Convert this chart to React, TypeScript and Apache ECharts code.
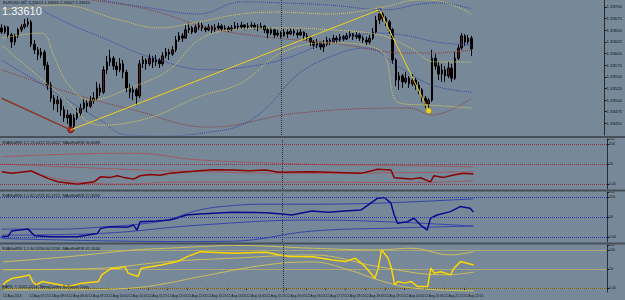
import { useEffect, useRef } from 'react';
import * as echarts from 'echarts';

const FONT = 'Liberation Sans, Arial, sans-serif';
const BG = '#778899';
const N_SLOTS = 184;

const timeLabels = ['12 Aug 2014', '12 Aug 07:25', '12 Aug 08:05', '12 Aug 08:45', '12 Aug 09:25', '12 Aug 10:05', '12 Aug 10:45', '12 Aug 11:25', '12 Aug 12:05', '12 Aug 12:45', '12 Aug 13:25', '12 Aug 14:05', '12 Aug 14:45', '12 Aug 15:25', '12 Aug 16:05', '12 Aug 16:45', '12 Aug 17:25', '12 Aug 18:05', '12 Aug 18:45', '12 Aug 19:25', '12 Aug 20:05', '12 Aug 20:45', '12 Aug 21:25', '12 Aug 22:05'];
const tickBars = [0, 8, 14, 20, 26, 32, 38, 44, 50, 56, 62, 68, 74, 80, 86, 92, 98, 104, 110, 116, 122, 128, 134, 140];

const opens = [1.33655,1.33646,1.33657,1.33640,1.33625,1.33638,1.33651,1.33657,1.33663,1.33668,
1.33620,1.33608,1.33597,1.33603,1.33575,1.33532,1.33504,1.33492,1.33500,1.33479,
1.33462,1.33468,1.33444,1.33462,1.33472,1.33483,1.33494,1.33487,1.33500,1.33504,
1.33526,1.33517,1.33565,1.33582,1.33590,1.33573,1.33565,1.33578,1.33560,1.33526,
1.33517,1.33522,1.33509,1.33578,1.33586,1.33578,1.33590,1.33582,1.33586,1.33578,
1.33595,1.33603,1.33599,1.33608,1.33629,1.33638,1.33633,1.33651,1.33655,1.33646,
1.33657,1.33661,1.33655,1.33651,1.33657,1.33651,1.33655,1.33659,1.33653,1.33655,
1.33651,1.33655,1.33659,1.33657,1.33661,1.33657,1.33659,1.33661,1.33657,1.33655,
1.33659,1.33651,1.33644,1.33651,1.33640,1.33644,1.33638,1.33646,1.33642,1.33648,
1.33644,1.33640,1.33646,1.33638,1.33633,1.33625,1.33618,1.33623,1.33614,1.33620,
1.33629,1.33625,1.33633,1.33629,1.33636,1.33631,1.33638,1.33642,1.33636,1.33640,
1.33633,1.33629,1.33625,1.33633,1.33646,1.33672,1.33685,1.33676,1.33668,1.33651,
1.33586,1.33543,1.33552,1.33539,1.33547,1.33535,1.33543,1.33532,1.33522,1.33504,
1.33492,1.33500,1.33590,1.33573,1.33556,1.33565,1.33552,1.33569,1.33547,1.33590,
1.33612,1.33638,1.33625,1.33633];
const closes = [1.33646,1.33657,1.33640,1.33625,1.33638,1.33651,1.33657,1.33663,1.33668,1.33620,
1.33608,1.33597,1.33603,1.33575,1.33532,1.33504,1.33492,1.33500,1.33479,1.33462,
1.33468,1.33444,1.33462,1.33472,1.33483,1.33494,1.33487,1.33500,1.33504,1.33526,
1.33517,1.33565,1.33582,1.33590,1.33573,1.33565,1.33578,1.33560,1.33526,1.33517,
1.33522,1.33509,1.33578,1.33586,1.33578,1.33590,1.33582,1.33586,1.33578,1.33595,
1.33603,1.33599,1.33608,1.33629,1.33638,1.33633,1.33651,1.33655,1.33646,1.33657,
1.33661,1.33655,1.33651,1.33657,1.33651,1.33655,1.33659,1.33653,1.33655,1.33651,
1.33655,1.33659,1.33657,1.33661,1.33657,1.33659,1.33661,1.33657,1.33655,1.33659,
1.33651,1.33644,1.33651,1.33640,1.33644,1.33638,1.33646,1.33642,1.33648,1.33644,
1.33640,1.33646,1.33638,1.33633,1.33625,1.33618,1.33623,1.33614,1.33620,1.33629,
1.33625,1.33633,1.33629,1.33636,1.33631,1.33638,1.33642,1.33636,1.33640,1.33633,
1.33629,1.33625,1.33633,1.33646,1.33672,1.33685,1.33676,1.33668,1.33651,1.33586,
1.33543,1.33552,1.33539,1.33547,1.33535,1.33543,1.33532,1.33522,1.33504,1.33492,
1.33500,1.33590,1.33573,1.33556,1.33565,1.33552,1.33569,1.33547,1.33590,1.33612,
1.33638,1.33625,1.33633,1.33610];
const lows = [1.33642,1.33642,1.33633,1.33612,1.33618,1.33633,1.33646,1.33653,1.33657,1.33614,
1.33599,1.33586,1.33590,1.33565,1.33522,1.33496,1.33479,1.33474,1.33466,1.33453,
1.33449,1.33436,1.33440,1.33457,1.33466,1.33479,1.33474,1.33483,1.33492,1.33500,
1.33509,1.33513,1.33556,1.33573,1.33565,1.33552,1.33560,1.33547,1.33517,1.33504,
1.33500,1.33489,1.33504,1.33569,1.33565,1.33573,1.33569,1.33573,1.33569,1.33573,
1.33590,1.33586,1.33595,1.33603,1.33625,1.33625,1.33633,1.33644,1.33642,1.33644,
1.33651,1.33648,1.33646,1.33648,1.33644,1.33646,1.33651,1.33648,1.33648,1.33646,
1.33648,1.33651,1.33651,1.33653,1.33651,1.33653,1.33655,1.33651,1.33648,1.33653,
1.33644,1.33633,1.33640,1.33633,1.33636,1.33631,1.33636,1.33633,1.33640,1.33638,
1.33633,1.33638,1.33629,1.33627,1.33616,1.33610,1.33612,1.33608,1.33603,1.33616,
1.33618,1.33623,1.33623,1.33625,1.33627,1.33629,1.33633,1.33629,1.33631,1.33627,
1.33623,1.33618,1.33620,1.33629,1.33642,1.33663,1.33668,1.33659,1.33642,1.33578,
1.33530,1.33522,1.33526,1.33535,1.33526,1.33530,1.33522,1.33513,1.33496,1.33483,
1.33477,1.33496,1.33565,1.33543,1.33539,1.33539,1.33547,1.33539,1.33543,1.33586,
1.33608,1.33616,1.33620,1.33595];
const highs = [1.33663,1.33661,1.33659,1.33644,1.33642,1.33655,1.33663,1.33674,1.33676,1.33672,
1.33629,1.33614,1.33612,1.33608,1.33582,1.33539,1.33511,1.33509,1.33504,1.33487,
1.33479,1.33472,1.33470,1.33483,1.33492,1.33504,1.33500,1.33509,1.33517,1.33539,
1.33535,1.33573,1.33595,1.33608,1.33595,1.33582,1.33590,1.33586,1.33565,1.33535,
1.33530,1.33526,1.33586,1.33595,1.33590,1.33599,1.33595,1.33597,1.33590,1.33603,
1.33612,1.33610,1.33616,1.33638,1.33646,1.33644,1.33661,1.33666,1.33659,1.33663,
1.33668,1.33666,1.33659,1.33663,1.33661,1.33663,1.33666,1.33663,1.33661,1.33659,
1.33661,1.33668,1.33666,1.33668,1.33663,1.33666,1.33668,1.33666,1.33663,1.33666,
1.33661,1.33655,1.33657,1.33653,1.33651,1.33648,1.33653,1.33651,1.33655,1.33653,
1.33651,1.33653,1.33648,1.33644,1.33638,1.33629,1.33631,1.33625,1.33629,1.33636,
1.33633,1.33640,1.33638,1.33642,1.33640,1.33644,1.33648,1.33644,1.33646,1.33644,
1.33638,1.33636,1.33640,1.33655,1.33681,1.33694,1.33689,1.33681,1.33672,1.33655,
1.33590,1.33560,1.33556,1.33560,1.33552,1.33556,1.33547,1.33539,1.33526,1.33509,
1.33504,1.33608,1.33599,1.33582,1.33578,1.33573,1.33582,1.33578,1.33603,1.33620,
1.33644,1.33642,1.33640,1.33638];

// main-window indicator curves: [bar index, price]
const yellowUpper = [[0,1.33694],[18,1.33704],[36,1.33672],[48,1.33655],[60,1.33668],[73,1.33685],[85,1.33689],[100,1.33685],[115,1.33698],[127,1.33715],[133,1.33713],[143,1.33685]];
const yellowMid = [[0,1.33633],[12,1.33644],[16,1.33593],[20,1.33537],[27,1.33500],[39,1.33526],[51,1.33565],[60,1.33629],[70,1.33651],[85,1.33655],[100,1.33651],[115,1.33640],[124,1.33614],[132,1.33582],[143,1.33582]];
const yellowLower = [[0,1.33618],[18,1.33511],[30,1.33446],[45,1.33462],[60,1.33507],[73,1.33537],[85,1.33601],[99,1.33623],[115,1.33608],[121,1.33494],[131,1.33489],[143,1.33483]];
const blueUpper = [[30,1.33715],[45,1.33698],[60,1.33685],[73,1.33711],[85,1.33709],[100,1.33704],[117,1.33694],[127,1.33706],[133,1.33709],[143,1.33696]];
const blueMid = [[7,1.33715],[18,1.33672],[30,1.33636],[45,1.33593],[63,1.33565],[72,1.33569],[85,1.33586],[100,1.33625],[115,1.33644],[124,1.33638],[132,1.33625],[143,1.33618]];
const blueLower = [[0,1.33586],[15,1.33522],[30,1.33457],[38,1.33425],[51,1.33423],[63,1.33431],[72,1.33444],[80,1.33479],[90,1.33554],[100,1.33593],[111,1.33612],[121,1.33571],[131,1.33532],[143,1.33517]];
const redUpper = [[27,1.33715],[45,1.33694],[63,1.33655],[80,1.33636],[100,1.33623],[124,1.33601],[131,1.33601],[143,1.33608]];
const redLower = [[0,1.33565],[23,1.33511],[40,1.33479],[63,1.33442],[90,1.33472],[124,1.33483],[131,1.33468],[143,1.33504]];
const zigzag = [[21,1.33436],[115,1.33694],[130,1.33477]];
const trendLine = [[0,1.33504],[21,1.33436]];
const bidPrice = 1.33610;
const separatorBar = 85;

// sub windows: [bar index, value]
const sub1Main = [[0,30.8],[3,26.8],[9,32.5],[14,14.3],[17,5.8],[23,0],[28,5.8],[30,18.3],[33,16.8],[35,20.8],[37,16.8],[40,12.5],[42,20.8],[45,24],[48,22],[51,26.8],[60,33.3],[64,36],[70,35],[75,33],[80,35],[84,29.3],[94,30.8],[109,26.8],[114,36.8],[118,35],[119,15.8],[124,12.5],[127,15.8],[130,5.8],[131,20.8],[134,16.8],[137,22.5],[140,26.8],[143,25]];
const sub1Upper = [[0,68.3],[20,74.3],[40,76.8],[60,60],[94,49.3],[110,47.5],[143,43.3]];
const sub1Mid = [[0,50],[30,39.3],[50,33.3],[94,26.8],[143,30.8]];
const sub1Low = [[12,22.5],[23,5],[38,0],[52,5],[94,5],[124,4],[143,8]];

const sub2Main = [[0,0.8],[2,2.5],[3,15],[8,20],[9,11.8],[10,3.3],[15,0.8],[23,0.8],[29,9.3],[30,21.8],[33,25.8],[38,24.3],[40,30],[41,17.5],[42,38.3],[47,40],[51,42.5],[53,46.8],[56,55],[60,57.5],[70,61.8],[80,60.8],[85,57.5],[88,55],[94,65],[99,61.8],[104,65],[109,67.5],[114,96.8],[116,98.3],[118,84.3],[119,55],[120,34.3],[123,38.3],[125,46.8],[127,30],[129,17.5],[130,46.8],[132,55],[136,63.3],[139,75.8],[142,71.8],[143,62.5]];
const sub2Upper = [[0,20],[18,20],[30,25],[42,32.5],[50,42.5],[60,67.5],[70,78.3],[80,81.8],[94,81.8],[114,84.3],[143,95]];
const sub2Mid = [[0,5],[30,9.3],[60,30],[94,42.5],[119,37.5],[143,27.5]];
const sub2Low = [[0,-3.3],[54,-11],[70,-10],[94,15],[119,22.5],[143,27.5]];

const sub3Main = [[0,7.9],[1,16.6],[3,25.5],[6,29.7],[8,34.2],[9,16.6],[10,7.9],[12,16.6],[20,3.4],[24,12.4],[29,16.6],[30,34.2],[33,51.8],[35,51.8],[37,56],[38,38.7],[41,29.7],[42,51.8],[48,60.5],[53,69.2],[56,82.4],[60,95.5],[70,91.3],[80,93.9],[84,86.8],[87,82.4],[94,82],[100,73.7],[104,69.2],[107,78.2],[110,56],[113,25.5],[114,51.8],[115,100],[117,78.2],[118,51.8],[119,7.9],[120,16.6],[122,12.4],[124,16.6],[126,3.4],[129,3.4],[130,51.8],[131,38.7],[133,42.5],[136,34.2],[137,51.8],[139,69.2],[141,65],[143,60.5]];
const sub3Upper = [[0,68.4],[20,82.4],[40,100],[50,104.5],[60,108.7],[70,112],[94,104.5],[114,100],[124,104.5],[136,86.8],[143,95.5]];
const sub3Mid = [[0,47.4],[30,51.8],[50,69.2],[70,78.2],[94,86.8],[114,56],[134,34.2],[143,41.3]];
const sub3Low = [[0,-5.3],[20,-5.3],[40,0],[50,12.4],[60,29.7],[80,60.5],[94,68.4],[105,47.4],[114,21],[124,0],[143,-7.9]];

const levels = [100, 50, 0];
const subAxisLabels = [0, 50, 100, 112];

function buildOption() {
  const cats = Array.from({ length: N_SLOTS }, (_, i) => String(i));
  const tickMap = new Map<number, string>();
  tickBars.forEach((b, k) => tickMap.set(b, timeLabels[k]));
  const grids = [
    { left: 0, right: 18, top: 0, height: 135 },
    { left: 0, right: 18, top: 139, height: 50 },
    { left: 0, right: 18, top: 192, height: 50 },
    { left: 0, right: 18, top: 245, height: 47 },
  ];
  const xAxis = grids.map((_, gi) => ({
    type: 'category', gridIndex: gi, data: cats, boundaryGap: true, show: gi === 3,
    axisLine: { show: true, lineStyle: { color: '#262d36' } },
    axisTick: { show: true, alignWithLabel: true, interval: (idx: number) => tickMap.has(idx), length: 2, lineStyle: { color: '#111' } },
    axisLabel: {
      interval: (idx: number) => tickMap.has(idx),
      formatter: (_v: string, idx: number) => tickMap.get(idx) ?? '',
      fontSize: 3.3, color: '#111', align: 'left', margin: 2, fontFamily: FONT,
    },
    splitLine: { show: false },
  }));
  const subY = (gi: number, min: number, max: number) => ({
    type: 'value', gridIndex: gi, position: 'right', min, max,
    axisLine: { show: true, lineStyle: { color: '#262d36' } },
    axisTick: { show: true, length: 2, customValues: subAxisLabels, lineStyle: { color: '#111' } },
    axisLabel: { customValues: subAxisLabels, fontSize: 3.6, color: '#111', margin: 2, fontFamily: FONT, formatter: (v: number) => (v === 0 ? '0.00' : String(v)) },
    splitLine: { show: false },
  });
  const yAxis = [
    {
      type: 'value', gridIndex: 0, position: 'right', min: 1.33425, max: 1.33715, interval: 0.00025,
      axisLine: { show: true, lineStyle: { color: '#262d36' } },
      axisTick: { show: true, length: 2, lineStyle: { color: '#111' } },
      axisLabel: { fontSize: 4.3, color: '#111', margin: 2, fontFamily: FONT, showMaxLabel: false, showMinLabel: false, formatter: (v: number) => v.toFixed(5) },
      splitLine: { show: false },
    },
    subY(1, -12, 112), subY(2, -12, 112), subY(3, -11, 113),
  ];

  const dotted = (data: number[][], color: string) => ({
    type: 'line', xAxisIndex: 0, yAxisIndex: 0, data, smooth: 0.4, symbol: 'none', silent: true,
    lineStyle: { color, width: 1, type: 'dotted' },
  });
  const subLine = (gi: number, data: number[][], color: string, width: number, smooth: number | boolean) => ({
    type: 'line', xAxisIndex: gi, yAxisIndex: gi, data, smooth, symbol: 'none', silent: true,
    lineStyle: { color, width },
  });
  const levelMarks = (color: string) => ({
    silent: true, symbol: ['none', 'none'], label: { show: false },
    data: [
      ...levels.map((l) => ({ yAxis: l, lineStyle: { color, type: 'dotted', width: 1 } })),
      { xAxis: separatorBar, lineStyle: { color: '#2a313a', type: 'dotted', width: 1 } },
    ],
  });

  const candleData = opens.map((o, i) => [o, closes[i], lows[i], highs[i]]);

  const series: any[] = [
    dotted(redUpper, '#8e3b3b'),
    dotted(redLower, '#8e3b3b'),
    dotted(blueUpper, '#3646a0'),
    dotted(blueMid, '#3646a0'),
    dotted(blueLower, '#3646a0'),
    dotted(yellowUpper, '#d9c955'),
    dotted(yellowMid, '#d9c955'),
    dotted(yellowLower, '#d9c955'),
    {
      type: 'candlestick', xAxisIndex: 0, yAxisIndex: 0, data: candleData, barWidth: 2,
      itemStyle: { color: '#5b1a22', color0: '#000000', borderColor: '#000000', borderColor0: '#000000', borderWidth: 1 },
      markLine: {
        silent: true, symbol: ['none', 'none'],
        data: [
          {
            yAxis: bidPrice, lineStyle: { color: '#2a313a', type: 'solid', width: 1 },
            label: { show: true, position: 'end', distance: 1, formatter: bidPrice.toFixed(5), color: '#ffffff', backgroundColor: '#000000', fontSize: 4.3, padding: [0.5, 1], fontFamily: FONT },
          },
          { xAxis: separatorBar, lineStyle: { color: '#2a313a', type: 'dotted', width: 1 }, label: { show: false } },
        ],
      },
    },
    { type: 'line', xAxisIndex: 0, yAxisIndex: 0, data: trendLine, symbol: 'none', silent: true, lineStyle: { color: '#8b3a2a', width: 1.5 } },
    { type: 'line', xAxisIndex: 0, yAxisIndex: 0, data: zigzag, symbol: 'none', silent: true, lineStyle: { color: '#f2d21a', width: 1 } },
    { type: 'scatter', xAxisIndex: 0, yAxisIndex: 0, data: [zigzag[0]], symbolSize: 6, itemStyle: { color: '#c01010', borderColor: '#3a0a0a', borderWidth: 0.8 } },
    { type: 'scatter', xAxisIndex: 0, yAxisIndex: 0, data: [zigzag[1]], symbolSize: 6, itemStyle: { color: '#2234c8', borderColor: '#f2d21a', borderWidth: 0.8 } },
    { type: 'scatter', xAxisIndex: 0, yAxisIndex: 0, data: [zigzag[2]], symbolSize: 6, itemStyle: { color: '#ffe21a', borderColor: '#8a7a10', borderWidth: 0.8 } },

    subLine(1, sub1Upper, '#a05a62', 1, 0.4),
    subLine(1, sub1Mid, '#a05a62', 1, 0.4),
    subLine(1, sub1Low, '#a05a62', 1, 0.4),
    { ...subLine(1, sub1Main, '#8b0000', 1.5, false), markLine: levelMarks('#8e3040') },

    subLine(2, sub2Upper, '#3444a8', 1, 0.4),
    subLine(2, sub2Mid, '#3444a8', 1, 0.4),
    subLine(2, sub2Low, '#3444a8', 1, 0.4),
    { ...subLine(2, sub2Main, '#0a0a8e', 1.5, false), markLine: levelMarks('#2a3ab4') },

    subLine(3, sub3Upper, '#cdbf5c', 1, 0.4),
    subLine(3, sub3Mid, '#cdbf5c', 1, 0.4),
    subLine(3, sub3Low, '#cdbf5c', 1, 0.4),
    { ...subLine(3, sub3Main, '#ffd700', 1.5, false), markLine: levelMarks('#dcc84a') },
  ];

  const txt = (left: number, top: number, text: string, fontSize: number, fill: string) => ({
    type: 'text', left, top, silent: true, z: 10,
    style: { text, fontSize, fill, fontFamily: FONT },
  });
  const bar = (y: number) => ({ type: 'rect', silent: true, z: 9, shape: { x: 0, y, width: 625, height: 2 }, style: { fill: '#46505b' } });

  const graphic = [
    bar(136), bar(189.5), bar(242.5),
    txt(3, 0, 'EURUSD,M5  1.33613 1.33616 1.33607 1.33610', 4, '#111111'),
    txt(2, 5, '1.33610', 11, '#f4f6f8'),
    txt(2, 140, 'SVAStdRSI 1.1 25.0412 25.0412  MAofStdRSI 30.8088', 4, '#111111'),
    txt(2, 193, 'SVAStdRSI 1.1 62.4722 62.4722  MAofStdRSI 27.4592', 4, '#111111'),
    txt(2, 246, 'SVAStdRSI 1.1 60.5256 60.5256  MAofStdRSI 41.3444', 4, '#111111'),
    txt(2, 284, 'EAPIL © 2001-2014, MetaQuotes Software Corp.', 4, '#111111'),
  ];

  return {
    animation: false,
    backgroundColor: BG,
    textStyle: { fontFamily: FONT },
    grid: grids,
    xAxis,
    yAxis,
    series,
    graphic,
  };
}

export default function App() {
  const ref = useRef<HTMLDivElement>(null);
  useEffect(() => {
    if (!ref.current) return;
    const chart = echarts.init(ref.current, null, { renderer: 'svg' });
    chart.setOption(buildOption() as any);
    return () => chart.dispose();
  }, []);
  return <div ref={ref} style={{ position: 'fixed', left: 0, top: 0, width: 625, height: 300 }} />;
}
